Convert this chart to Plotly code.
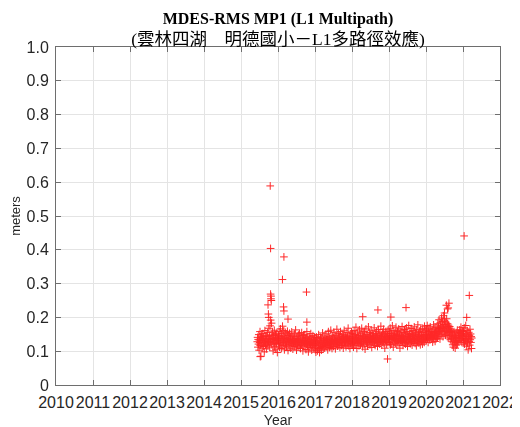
import plotly.graph_objects as go

# ---- data (decimal year, RMS multipath in meters), sampled every 3 days ----
step_days = 3
starts = {"2015": 2015.44, "2016": 2016.0, "2017": 2017.0, "2018": 2018.0,
          "2019": 2019.0, "2020": 2020.0, "2021": 2021.0}

v2015 = [
0.128,0.141,0.112,0.135,0.121,0.149,0.103,0.133,0.126,0.158,
0.117,0.139,0.085,0.131,0.145,0.122,0.109,0.137,0.152,0.127,
0.114,0.143,0.131,0.098,0.125,0.161,0.136,0.119,0.142,0.128,
0.107,0.147,0.133,0.124,0.155,0.116,0.138,0.129,0.168,0.121,
0.144,0.112,0.175,0.134,0.192,0.126,0.148,0.183,0.119,0.139,
0.157,0.131,0.101,0.146,0.124,0.137,0.162,0.113,0.135,0.128,
0.149,0.106,0.141,0.123,0.153,0.132,0.096,0.138]

v2016 = [
0.134,0.119,0.147,0.126,0.158,0.112,0.139,0.131,0.166,0.122,
0.143,0.108,0.152,0.128,0.137,0.174,0.117,0.145,0.125,0.161,
0.133,0.104,0.141,0.127,0.156,0.119,0.136,0.148,0.113,0.131,
0.124,0.159,0.138,0.102,0.129,0.146,0.121,0.135,0.153,0.116,
0.127,0.142,0.109,0.133,0.125,0.157,0.118,0.139,0.131,0.106,
0.144,0.122,0.136,0.128,0.151,0.114,0.132,0.126,0.163,0.119,
0.138,0.103,0.129,0.145,0.121,0.134,0.112,0.148,0.127,0.136,
0.117,0.153,0.124,0.131,0.108,0.142,0.126,0.119,0.155,0.133,
0.121,0.139,0.101,0.128,0.146,0.115,0.132,0.124,0.149,0.118,
0.136,0.127,0.105,0.141,0.122,0.158,0.129,0.113,0.137,0.124,
0.098,0.131,0.119,0.144,0.126,0.111,0.135,0.121,0.152,0.116,
0.128,0.103,0.139,0.124,0.117,0.146,0.122,0.133,0.109,0.127,
0.141,0.118]

v2017 = [
0.119,0.104,0.131,0.097,0.124,0.142,0.112,0.128,0.101,0.136,
0.116,0.122,0.149,0.108,0.127,0.096,0.133,0.118,0.141,0.111,
0.125,0.103,0.138,0.121,0.114,0.154,0.127,0.106,0.132,0.119,
0.145,0.124,0.109,0.136,0.128,0.117,0.151,0.122,0.134,0.113,
0.141,0.126,0.104,0.132,0.158,0.119,0.137,0.125,0.111,0.143,
0.129,0.121,0.162,0.116,0.134,0.127,0.108,0.146,0.131,0.123,
0.139,0.114,0.156,0.128,0.135,0.119,0.148,0.107,0.133,0.126,
0.142,0.121,0.165,0.131,0.115,0.138,0.127,0.152,0.119,0.136,
0.124,0.145,0.111,0.133,0.158,0.128,0.141,0.117,0.135,0.126,
0.149,0.122,0.138,0.109,0.143,0.131,0.162,0.125,0.136,0.118,
0.147,0.129,0.113,0.139,0.134,0.155,0.121,0.142,0.127,0.168,
0.132,0.116,0.144,0.129,0.137,0.108,0.151,0.124,0.139,0.131,
0.157,0.122]

v2018 = [
0.138,0.121,0.152,0.129,0.144,0.112,0.135,0.161,0.126,0.141,
0.118,0.149,0.133,0.171,0.127,0.139,0.108,0.146,0.131,0.157,
0.123,0.137,0.145,0.116,0.134,0.163,0.128,0.142,0.119,0.151,
0.136,0.125,0.168,0.131,0.147,0.113,0.139,0.154,0.127,0.143,
0.121,0.158,0.134,0.106,0.141,0.129,0.166,0.137,0.124,0.149,
0.132,0.115,0.145,0.138,0.172,0.126,0.143,0.131,0.155,0.119,
0.136,0.148,0.127,0.162,0.134,0.111,0.141,0.129,0.153,0.138,
0.122,0.146,0.135,0.169,0.128,0.143,0.117,0.151,0.133,0.141,
0.125,0.159,0.137,0.148,0.114,0.139,0.131,0.164,0.126,0.145,
0.136,0.121,0.153,0.142,0.129,0.174,0.134,0.147,0.118,0.139,
0.156,0.127,0.143,0.131,0.165,0.124,0.149,0.136,0.109,0.144,
0.133,0.158,0.128,0.141,0.121,0.152,0.137,0.146,0.126,0.163,
0.135,0.142]

v2019 = [
0.143,0.126,0.157,0.134,0.168,0.119,0.146,0.138,0.152,0.121,
0.141,0.175,0.133,0.148,0.112,0.139,0.161,0.127,0.145,0.136,
0.154,0.124,0.142,0.171,0.131,0.149,0.118,0.137,0.158,0.128,
0.146,0.135,0.166,0.122,0.143,0.151,0.109,0.139,0.132,0.162,
0.126,0.147,0.138,0.173,0.129,0.144,0.117,0.155,0.136,0.141,
0.124,0.164,0.133,0.148,0.121,0.157,0.139,0.128,0.169,0.135,
0.145,0.114,0.152,0.131,0.143,0.176,0.126,0.149,0.137,0.158,
0.122,0.141,0.134,0.167,0.129,0.153,0.118,0.146,0.138,0.161,
0.127,0.144,0.135,0.172,0.131,0.149,0.123,0.156,0.139,0.142,
0.116,0.163,0.134,0.147,0.128,0.178,0.137,0.151,0.125,0.144,
0.159,0.132,0.141,0.119,0.165,0.136,0.148,0.129,0.155,0.143,
0.121,0.168,0.138,0.146,0.133,0.157,0.126,0.174,0.141,0.149,
0.135,0.162]

v2020 = [
0.148,0.131,0.163,0.142,0.176,0.137,0.154,0.126,0.159,0.144,
0.168,0.139,0.151,0.133,0.172,0.146,0.141,0.158,0.149,0.137,
0.163,0.145,0.127,0.156,0.141,0.178,0.135,0.152,0.147,0.166,
0.129,0.158,0.143,0.171,0.138,0.155,0.148,
0.162,0.139,0.181,0.152,0.171,0.145,0.193,0.158,0.167,0.136,
0.184,0.163,0.175,0.149,0.198,0.166,0.157,0.188,0.171,0.143,
0.205,0.168,0.179,0.154,0.192,0.161,0.174,0.147,0.186,0.169,
0.158,0.196,0.172,0.151,0.181,0.163,0.139,0.177,0.155,0.168,
0.146,0.173,0.159,0.134,0.165,0.148,0.157,0.138,0.162,
0.128,0.151,0.119,0.143,0.112,0.136,0.158,0.124,0.147,0.131,
0.109,0.141,0.126,0.155,0.118,0.139,0.133,0.162,0.121,0.145,
0.129,0.153,0.137,0.148,
0.141,0.163,0.132,0.156,0.147,0.171,0.138,0.152,0.126,0.161,
0.144,0.158]

v2021 = [
0.146,0.127,0.158,0.135,0.169,0.121,0.142,0.153,0.131,0.176,
0.138,0.115,0.149,0.133,0.161,0.124,0.144,0.104,0.137,0.156,
0.129,0.147,0.118,0.165,0.134,0.151,0.126,0.143,0.108,0.139]

# isolated outliers
out_x = [2015.79, 2015.80, 2016.16, 2016.12, 2016.77, 2015.80, 2015.81, 2015.82,
         2015.81, 2015.73, 2016.15, 2016.16, 2015.74, 2015.75, 2016.27, 2016.78,
         2018.29, 2018.70, 2019.46, 2019.05, 2021.03, 2021.17, 2020.62, 2020.55,
         2020.50, 2021.10, 2018.96, 2015.52, 2020.58, 2020.60]
out_y = [0.589, 0.404, 0.379, 0.312, 0.275, 0.269, 0.263, 0.250,
         0.255, 0.237, 0.231, 0.219, 0.210, 0.200, 0.195, 0.186,
         0.202, 0.222, 0.229, 0.201, 0.441, 0.265, 0.242, 0.236,
         0.213, 0.200, 0.077, 0.084, 0.225, 0.228]

year_ticks = list(range(2010, 2023))
y_tickvals = [0, 0.1, 0.2, 0.3, 0.4, 0.5, 0.6, 0.7, 0.8, 0.9, 1.0]
y_ticktext = ["0", "0.1", "0.2", "0.3", "0.4", "0.5", "0.6", "0.7", "0.8", "0.9", "1.0"]

# ---- assemble ----
xs, ys = [], []
for key, vals in [("2015", v2015), ("2016", v2016), ("2017", v2017), ("2018", v2018),
                  ("2019", v2019), ("2020", v2020), ("2021", v2021)]:
    for i, v in enumerate(vals):
        xs.append(starts[key] + i * step_days / 365.25)
        ys.append(v)
xs += out_x
ys += out_y

TICKFONT = dict(family="Liberation Sans, Arial, sans-serif", size=16, color="#262626")

fig = go.Figure()
fig.add_trace(go.Scatter(
    x=xs, y=ys, mode="markers",
    marker=dict(symbol="cross-thin-open", size=5.5, color="red",
                line=dict(color="red", width=1)),
    opacity=0.85, showlegend=False, hoverinfo="skip"))

axis_common = dict(showline=True, linecolor="#6e6e6e", linewidth=1, mirror="allticks",
                   ticks="inside", ticklen=5, tickcolor="#6e6e6e",
                   showgrid=True, gridcolor="#e4e4e4", gridwidth=1,
                   zeroline=False, tickfont=TICKFONT, automargin=False,
                   ticklabelstandoff=3)

fig.update_layout(
    width=520, height=427,
    margin=dict(l=48, r=28, t=39, b=50, autoexpand=False),
    paper_bgcolor="white", plot_bgcolor="white",
    title=dict(
        text="<b>MDES-RMS MP1 (L1 Multipath)</b><br>"
             "<span style='font-size:17.5px'>(雲林四湖　明德國小－L1多路徑效應)</span>",
        font=dict(family="Liberation Serif, Times New Roman, Noto Sans CJK TC, serif",
                  size=16, color="black"),
        x=0.5, xref="paper", xanchor="center",
        y=0.962, yref="container", yanchor="top"),
    xaxis=dict(range=[2010, 2022], tickvals=year_ticks,
               ticktext=[str(t) for t in year_ticks], tickangle=0,
               title=dict(text="Year", font=dict(family="Liberation Sans, Arial, sans-serif",
                                                 size=14, color="#262626"), standoff=4),
               **axis_common),
    yaxis=dict(range=[0, 1], tickvals=y_tickvals, ticktext=y_ticktext,
               title=dict(text="meters", font=dict(family="Liberation Sans, Arial, sans-serif",
                                                   size=13, color="#262626"), standoff=4),
               **axis_common),
)

fig.write_html("out.html")
